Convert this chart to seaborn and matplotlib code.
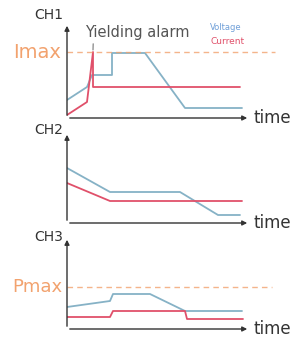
import matplotlib
matplotlib.use("Agg")
import matplotlib.pyplot as plt
import seaborn as sns
import pandas as pd

# schematic traces, units = pixels inside each panel (x from y-axis, y from x-axis)
ch1_volt_x = [0, 20, 25, 45, 45, 78, 118, 175]
ch1_volt_y = [18, 31, 43, 43, 65, 65, 10, 10]
ch1_curr_x = [0, 20, 26, 26, 173]
ch1_curr_y = [3, 16, 66, 31, 31]
imax_level = 66

ch2_volt_x = [0, 43, 113, 151, 173]
ch2_volt_y = [55, 31, 31, 8, 8]
ch2_curr_x = [0, 43, 175]
ch2_curr_y = [40, 22, 22]

ch3_volt_x = [0, 43, 46, 83, 118, 175]
ch3_volt_y = [22, 28, 35, 35, 18, 18]
ch3_curr_x = [0, 43, 46, 118, 120, 176]
ch3_curr_y = [12, 12, 18, 18, 10, 10]
pmax_level = 42

BLUE = '#86b2c6'
RED = '#e0506a'
ORANGE = '#f2a26e'
AXC = '#333333'

sns.set_style('white')
plt.rcParams['font.family'] = ['DejaVu Sans']

fig = plt.figure(figsize=(2.94, 3.38), dpi=100)

# panel boxes in pixels: (top, bottom)
boxes = [(23, 118), (132, 223), (237, 329)]
axes = []
for top, bot in boxes:
    ax = fig.add_axes([67 / 294, (338 - bot) / 338, 183 / 294, (bot - top) / 338])
    ax.set_xlim(0, 183)
    ax.set_ylim(0, bot - top)
    for s in ax.spines.values():
        s.set_visible(False)
    ax.set_xticks([])
    ax.set_yticks([])
    ax.patch.set_alpha(0)
    # axis arrows
    ax.annotate('', xy=(1, 0), xytext=(0, 0), xycoords='axes fraction',
                arrowprops=dict(arrowstyle='-|>', color=AXC, lw=1.0, mutation_scale=7))
    ax.annotate('', xy=(0, 1), xytext=(0, 0), xycoords='axes fraction',
                arrowprops=dict(arrowstyle='-|>', color=AXC, lw=1.0, mutation_scale=7))
    ax.text(186, 0, 'time', fontsize=12, color=AXC, va='center', ha='left')
    axes.append(ax)

series = [
    (ch1_volt_x, ch1_volt_y, ch1_curr_x, ch1_curr_y),
    (ch2_volt_x, ch2_volt_y, ch2_curr_x, ch2_curr_y),
    (ch3_volt_x, ch3_volt_y, ch3_curr_x, ch3_curr_y),
]
for ax, (vx, vy, cx, cy) in zip(axes, series):
    sns.lineplot(x=vx, y=vy, sort=False, estimator=None, color=BLUE, lw=1.3, ax=ax)
    sns.lineplot(x=cx, y=cy, sort=False, estimator=None, color=RED, lw=1.3, ax=ax)

labels = ['CH1', 'CH2', 'CH3']
label_y = [103, 93, 92]
for ax, lab, ly in zip(axes, labels, label_y):
    ax.text(-4, ly, lab, fontsize=10, color=AXC, ha='right', va='center')

# limit lines
axes[0].plot([0, 208], [imax_level, imax_level], ls=(0, (4, 3)), color=ORANGE, lw=1.0,
             alpha=0.8, clip_on=False)
axes[0].text(-6, imax_level, 'Imax', fontsize=14, color=ORANGE, ha='right', va='center')
axes[2].plot([0, 205], [pmax_level, pmax_level], ls=(0, (4, 3)), color=ORANGE, lw=1.0,
             alpha=0.8, clip_on=False)
axes[2].text(-5, pmax_level, 'Pmax', fontsize=13, color=ORANGE, ha='right', va='center')

# alarm annotation
axes[0].annotate('Yielding alarm', xy=(26, 68), xytext=(18, 85), fontsize=10.5, color='#555555',
                 va='center', ha='left',
                 arrowprops=dict(arrowstyle='-', color='#777777', lw=0.8, shrinkA=0, shrinkB=0,
                                 relpos=(0.08, 0.2)))

# legend text
axes[0].text(143, 90, 'Voltage', fontsize=6, color='#6f9fd8', ha='left', va='center')
axes[0].text(143, 77, 'Current', fontsize=6.5, color=RED, ha='left', va='center')

fig.savefig('out.png', dpi=100)
